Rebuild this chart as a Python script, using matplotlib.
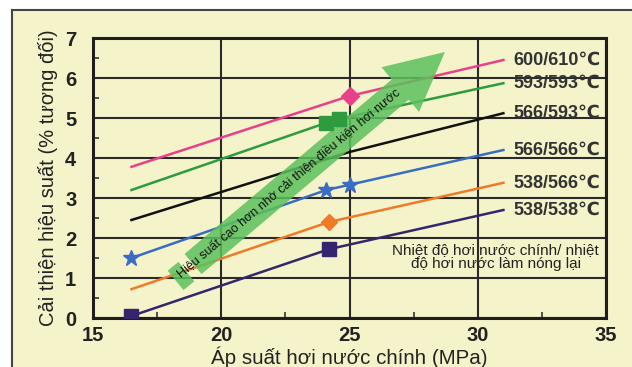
import numpy as np
import matplotlib.pyplot as plt
from matplotlib.patches import Rectangle
from matplotlib.lines import Line2D
from matplotlib.ticker import MultipleLocator

# data: main steam pressure (MPa) vs efficiency gain (%)
labels = ['600/610℃', '593/593℃', '566/593℃', '566/566℃', '538/566℃', '538/538℃']
x_600 = [16.5, 25.0, 31.0]
y_600 = [3.78, 5.55, 6.45]
x_593 = [16.5, 24.1, 24.6, 31.0]
y_593 = [3.20, 4.88, 4.98, 5.87]
x_566_593 = [16.5, 25.0, 31.0]
y_566_593 = [2.45, 4.15, 5.12]
x_566 = [16.5, 24.1, 25.0, 31.0]
y_566 = [1.50, 3.20, 3.33, 4.20]
x_538_566 = [16.5, 24.2, 31.0]
y_538_566 = [0.72, 2.40, 3.38]
x_538 = [16.5, 24.2, 31.0]
y_538 = [0.05, 1.72, 2.70]

# which points carry a marker (index into each series)
mk_600 = [1]
mk_593 = [1, 2]
mk_566 = [0, 1, 2]
mk_538_566 = [1]
mk_538 = [0, 1]

bg = '#f4f3c9'
font = ['Liberation Sans', 'DejaVu Sans']

fig = plt.figure(figsize=(6.32, 3.67), dpi=100)
fig.patch.set_facecolor('white')

# yellow panel with border on top and left
fig.add_artist(Rectangle((12/632, 0), 1, 1 - 10/367, transform=fig.transFigure,
                         facecolor=bg, edgecolor='none', zorder=-10))
fig.add_artist(Line2D([12/632, 12/632], [0, 1 - 10/367], transform=fig.transFigure,
                      color='#444444', lw=1.5))
fig.add_artist(Line2D([12/632, 1], [1 - 10/367, 1 - 10/367], transform=fig.transFigure,
                      color='#444444', lw=1.5))

ax = fig.add_axes([93/632, 49/367, 513/632, 280/367])
ax.set_facecolor(bg)
ax.set_xlim(15, 35)
ax.set_ylim(0, 7)

ax.xaxis.set_major_locator(MultipleLocator(5))
ax.xaxis.set_minor_locator(MultipleLocator(2.5))
ax.yaxis.set_major_locator(MultipleLocator(1))
ax.yaxis.set_minor_locator(MultipleLocator(0.5))
ax.grid(True, which='major', color='#2a2a2a', lw=1.5)
ax.set_axisbelow(True)
for s in ax.spines.values():
    s.set_color('#1e1e1e')
    s.set_linewidth(2.2)
ax.tick_params(which='major', length=0, pad=6)
ax.tick_params(axis='x', which='minor', direction='in', length=4, width=1.2, color='#333333')
ax.tick_params(axis='y', which='minor', direction='in', length=4, width=1.2, color='#333333')
ax.tick_params(axis='y', which='major', pad=12)
for t in ax.get_xticklabels() + ax.get_yticklabels():
    t.set_fontfamily(font)
    t.set_fontweight('bold')
    t.set_fontsize(14.5)
    t.set_color('#222222')

ax.set_xlabel('Áp suất hơi nước chính (MPa)', fontsize=14.8, family=font,
              color='#222222', labelpad=1)
ax.set_ylabel('Cải thiện hiệu suất (% tương đối)', fontsize=14.5, family=font,
              color='#222222', labelpad=5)

series = [
    (x_600, y_600, '#e8408a', 'D', mk_600, 9),
    (x_593, y_593, '#2e9b3e', 's', mk_593, 10),
    (x_566_593, y_566_593, '#111111', None, [], 0),
    (x_566, y_566, '#3b6cc4', '*', mk_566, 12),
    (x_538_566, y_538_566, '#f07a2a', 'D', mk_538_566, 8),
    (x_538, y_538, '#35256e', 's', mk_538, 10),
]
for (xs, ys, c, m, mk, ms), lab in zip(series, labels):
    ax.plot(xs, ys, color=c, lw=1.8, zorder=3)
    if m:
        ax.plot(np.array(xs)[mk], np.array(ys)[mk], ls='none', marker=m, ms=ms,
                color=c, mec=c, zorder=5)
    ax.text(31.4, ys[-1], lab, fontsize=13, fontweight='bold', family=font,
            color='#333333', va='center', ha='left', zorder=6)

ax.text(30.7, 1.52, 'Nhiệt độ hơi nước chính/ nhiệt\nđộ hơi nước làm nóng lại',
        fontsize=11, family=font, color='#222222', ha='center', va='center',
        linespacing=1.05, zorder=6)

# big green arrow with the caption along it
arrow_green = '#5cc05c'
ax.annotate('', xy=(28.72, 6.65), xytext=(18.9, 1.35),
            arrowprops=dict(arrowstyle='simple,head_length=2.1,head_width=2.1,tail_width=0.95',
                            mutation_scale=20, color=arrow_green, alpha=0.85, lw=0,
                            shrinkA=0, shrinkB=0), zorder=4)
ax.plot([18.22, 18.64], [0.94, 1.16], color=arrow_green, alpha=0.85, lw=18,
        solid_capstyle='butt', zorder=4)
ax.text(22.64, 3.37, 'Hiệu suất cao hơn nhờ cải thiện điều kiện hơi nước',
        fontsize=9, family=font, color='#111111', rotation=40,
        rotation_mode='anchor', ha='center', va='center', zorder=6)

fig.savefig('out.png', dpi=100, facecolor=fig.get_facecolor())
